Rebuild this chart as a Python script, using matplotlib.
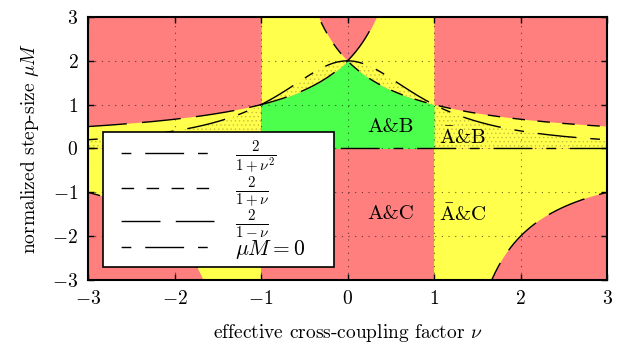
import numpy as np
import matplotlib
matplotlib.use('Agg')
import matplotlib.pyplot as plt
from matplotlib.lines import Line2D

plt.rcParams['font.family'] = ['cmr10', 'DejaVu Serif']
plt.rcParams['mathtext.fontset'] = 'cm'
plt.rcParams['axes.formatter.use_mathtext'] = True
plt.rcParams['hatch.linewidth'] = 0.5

# axis ranges and ticks
nu_lim = [-3, 3]
mu_lim = [-3, 3]
ticks = [-3, -2, -1, 0, 1, 2, 3]

# region labels
region_text = ['A&B', r'$\bar{\mathrm{A}}$&B', 'A&C', r'$\bar{\mathrm{A}}$&C']
region_nu = [0.5, 1.33, 0.5, 1.33]
region_mu = [0.5, 0.25, -1.5, -1.5]

legend_labels = [r'$\frac{2}{1+\nu^2}$', r'$\frac{2}{1+\nu}$',
                 r'$\frac{2}{1-\nu}$', r'$\mu M = 0$']

red = '#ff7f7f'
yellow = '#ffff4c'
green = '#4cff4c'
stipple = '#c8c040'

nu = np.linspace(-3, 3, 3001)
a = np.abs(nu)
inner = a < 1

fig = plt.figure(figsize=(6.22, 3.5), dpi=100)
ax = fig.add_axes([0.1415, 0.2, 0.8345, 0.7515])
ax.set_facecolor(red)

# yellow between 2/(1+|nu|) and 2/(1-|nu|) for |nu|<1
lo = 2 / (1 + a)
hi = np.minimum(2 / np.maximum(1 - a, 1e-9), 4)
ax.fill_between(nu, lo, hi, where=inner, color=yellow, lw=0, zorder=1)
# yellow, positive side, |nu|>1
ax.fill_between(nu, 0, 2 / (1 + a), where=a >= 1, color=yellow, lw=0, zorder=1)
# yellow, negative side, |nu|>1
neg = np.maximum(2 / np.minimum(1 - a, -1e-9), -4)
ax.fill_between(nu, neg, 0, where=a >= 1, color=yellow, lw=0, zorder=1)
# green
ax.fill_between(nu, 0, 2 / (1 + a), where=a <= 1, color=green, lw=0, zorder=1)
# stippled part below 2/(1+nu^2)
st_lo = np.where(inner, 2 / (1 + a), 0)
ax.fill_between(nu, st_lo, 2 / (1 + nu**2), facecolor='none', edgecolor=stipple,
                hatch='....', lw=0, zorder=1.2)

# curves
f1 = 2 / (1 + nu**2)
f2 = 2 / (1 + nu)
f2[(nu > -1.0005) & (nu < -0.999)] = np.nan
f3 = 2 / (1 - nu)
f3[(nu > 0.999) & (nu < 1.0005)] = np.nan
zero = np.zeros_like(nu)

pat_a = (7, 10, 28, 10)
pat_b = (9, 9)
pat_c = (28, 11)
ax.plot(nu, f1, color='k', lw=1.0, ls=(0, pat_a), zorder=3)
ax.plot(nu, f2, color='k', lw=1.0, ls=(0, pat_b), zorder=3)
ax.plot(nu, f3, color='k', lw=1.0, ls=(0, pat_c), zorder=3)
ax.plot(nu, zero, color='k', lw=1.0, ls=(0, pat_a), zorder=3)

# legend handles start with a gap, like the original key
handles = [Line2D([], [], color='k', lw=1.0, ls=(47, pat_a)),
           Line2D([], [], color='k', lw=1.0, ls=(10, pat_b)),
           Line2D([], [], color='k', lw=1.0, ls=(31, pat_c)),
           Line2D([], [], color='k', lw=1.0, ls=(47, pat_a))]

for t, x, y in zip(region_text, region_nu, region_mu):
    ax.text(x, y, t, fontsize=15, ha='center', va='center', zorder=4)

ax.set_xlim(nu_lim)
ax.set_ylim(mu_lim)
ax.set_xticks(ticks)
ax.set_yticks(ticks)
ax.set_xticklabels(['$%d$' % t for t in ticks], fontsize=14)
ax.set_yticklabels(['$%d$' % t for t in ticks], fontsize=14)
ax.tick_params(direction='in', top=True, right=True, length=4, width=1, pad=7)
ax.grid(True, color='k', ls=(0, (1, 5)), lw=0.8, alpha=0.6)
for s in ax.spines.values():
    s.set_linewidth(1.5)

ax.set_xlabel(r'effective cross-coupling factor $\nu$', fontsize=14, labelpad=10)
ax.set_ylabel(r'normalized step-size $\mu M$', fontsize=14, labelpad=8)

leg = ax.legend(handles, legend_labels, loc='lower left', mode='expand',
                bbox_to_anchor=(0.029, 0.049, 0.445, 0.5), fontsize=15.5,
                handlelength=4.85, handletextpad=1.0, labelspacing=-0.1,
                borderpad=0.3, borderaxespad=0, fancybox=False, framealpha=1,
                edgecolor='k')
leg.get_frame().set_linewidth(1.2)
leg.set_zorder(5)

fig.savefig('out.png', dpi=100)
